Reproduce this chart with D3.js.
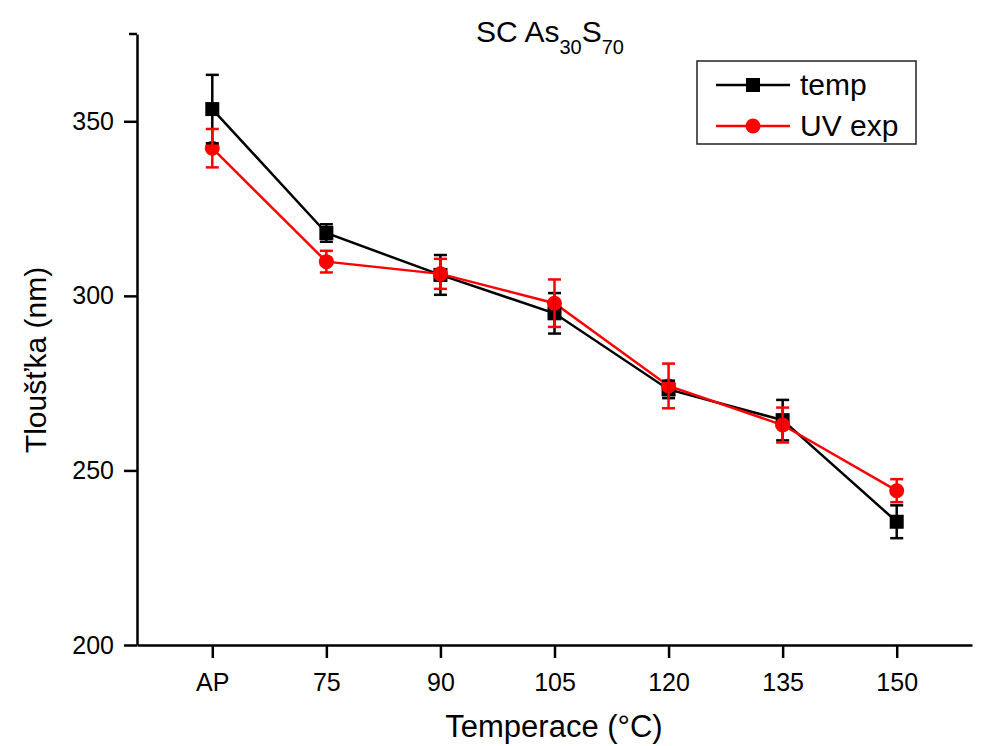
<!DOCTYPE html>
<html>
<head>
<meta charset="utf-8">
<script src="https://cdn.jsdelivr.net/npm/d3@7"></script>
<style>
  body { margin: 0; background: #fff; }
  svg text { font-family: Arial, "Liberation Sans", sans-serif; fill: #000; }
</style>
</head>
<body>
<svg width="990" height="746"></svg>
<script>
// categories + values
const CATEGORIES = ['AP', '75', '90', '105', '120', '135', '150'];
const TEMP_VALUES = [353.5, 318, 306, 295, 273.2, 264.4, 235.3];
const TEMP_ERRORS = [9.8, 2.5, 5.7, 5.8, 2.5, 5.8, 4.7];
const UV_VALUES = [342.3, 309.8, 306.3, 297.9, 274.2, 263, 244.2];
const UV_ERRORS = [5.5, 3.1, 4.3, 6.8, 6.4, 5, 3.3];
const Y_TICKS = [200, 250, 300, 350];

const PLOT = { left: 137, right: 972, top: 34, bottom: 645 };

const svg = d3.select('svg');

const x = d3.scalePoint().domain(CATEGORIES).range([PLOT.left, PLOT.right]).padding(0.66);
const y = d3.scaleLinear().domain([200, 375]).range([PLOT.bottom, PLOT.top]);

const series = [
    { name: 'temp', color: '#000', values: TEMP_VALUES, errors: TEMP_ERRORS, shape: 'square' },
    { name: 'UV exp', color: '#ff0000', values: UV_VALUES, errors: UV_ERRORS, shape: 'circle' }
];

// AXES
const xAxis = svg.append('g')
    .attr('transform', `translate(0,${PLOT.bottom})`)
    .call(d3.axisBottom(x).tickSize(13).tickSizeOuter(0).tickPadding(9));

const yAxis = svg.append('g')
    .attr('transform', `translate(${PLOT.left},0)`)
    .call(d3.axisLeft(y).tickValues(Y_TICKS).tickSize(13).tickSizeOuter(0).tickPadding(10));

// little end tick at the top of the y axis
yAxis.append('line')
    .attr('x1', -8).attr('x2', 0)
    .attr('y1', y(375)).attr('y2', y(375))
    .attr('stroke', '#000');

[xAxis, yAxis].forEach(a => {
    a.selectAll('path, line').attr('stroke', '#000').attr('stroke-width', 2.5);
    a.selectAll('text').style('font-size', '25px').attr('fill', '#000');
});
xAxis.selectAll('text').attr('dy', '0.95em');

// LINES
const line = d3.line().x((d, i) => x(CATEGORIES[i])).y(d => y(d));
series.forEach(s => {
    svg.append('path')
        .datum(s.values)
        .attr('d', line)
        .attr('fill', 'none')
        .attr('stroke', s.color)
        .attr('stroke-width', 2.5);
});

// SYMBOLS
function drawSymbol(g, s, cx, cy) {
    if (s.shape === 'square') {
        g.append('rect')
            .attr('x', cx - 7).attr('y', cy - 7)
            .attr('width', 14).attr('height', 14)
            .attr('fill', s.color);
    } else {
        g.append('circle')
            .attr('cx', cx).attr('cy', cy).attr('r', 7.5)
            .attr('fill', s.color);
    }
}

series.forEach(s => {
    const g = svg.append('g');
    s.values.forEach((v, i) => drawSymbol(g, s, x(CATEGORIES[i]), y(v)));
});

// ERROR BARS
series.forEach(s => {
    const g = svg.append('g').attr('stroke', s.color).attr('stroke-width', 2.5);
    s.values.forEach((v, i) => {
        const cx = x(CATEGORIES[i]);
        const hi = y(v + s.errors[i]), lo = y(v - s.errors[i]);
        g.append('line').attr('x1', cx).attr('x2', cx).attr('y1', hi).attr('y2', lo);
        g.append('line').attr('x1', cx - 6.5).attr('x2', cx + 6.5).attr('y1', hi).attr('y2', hi);
        g.append('line').attr('x1', cx - 6.5).attr('x2', cx + 6.5).attr('y1', lo).attr('y2', lo);
    });
});

// TITLE
const title = svg.append('text')
    .attr('x', 550).attr('y', 42)
    .attr('text-anchor', 'middle')
    .style('font-size', '30px');
title.append('tspan').text('SC As');
title.append('tspan').text('30').style('font-size', '20px').attr('dy', 12);
title.append('tspan').text('S').attr('dy', -12);
title.append('tspan').text('70').style('font-size', '20px').attr('dy', 12);

// AXIS TITLES
svg.append('text')
    .attr('x', 554).attr('y', 737)
    .attr('text-anchor', 'middle')
    .style('font-size', '31px')
    .text('Temperace (°C)');

svg.append('text')
    .attr('transform', 'translate(46,360) rotate(-90)')
    .attr('text-anchor', 'middle')
    .style('font-size', '30px')
    .text('Tloušťka (nm)');

// LEGEND
const legend = svg.append('g');
legend.append('rect')
    .attr('x', 697).attr('y', 61)
    .attr('width', 219).attr('height', 83)
    .attr('fill', '#fff')
    .attr('stroke', '#222').attr('stroke-width', 1.5);

series.forEach((s, i) => {
    const row = 85 + i * 41;
    legend.append('line')
        .attr('x1', 716).attr('x2', 790)
        .attr('y1', row).attr('y2', row)
        .attr('stroke', s.color).attr('stroke-width', 2.5);
    drawSymbol(legend, s, 753, row);
    legend.append('text')
        .attr('x', 800).attr('y', row + 10)
        .style('font-size', '30px')
        .text(s.name);
});
</script>
</body>
</html>
